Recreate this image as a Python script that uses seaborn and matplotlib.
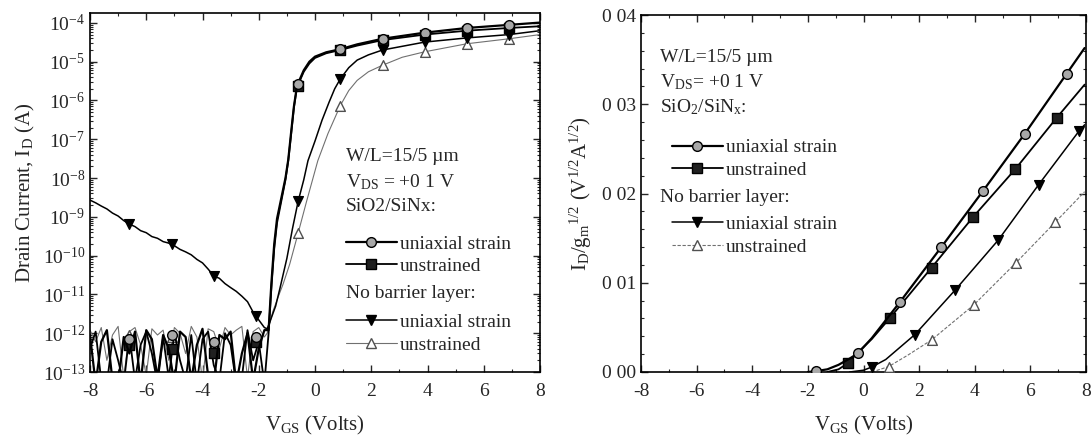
import numpy as np
import matplotlib
matplotlib.use("Agg")
import matplotlib.pyplot as plt
import seaborn as sns
from matplotlib.lines import Line2D
from matplotlib.ticker import MultipleLocator, LogLocator, FixedLocator, FixedFormatter, NullFormatter

# --- Style -------------------------------------------------------------------
sns.set_style("ticks")
plt.rcParams["font.family"] = ["Liberation Serif", "DejaVu Serif"]
plt.rcParams["mathtext.fontset"] = "custom"
plt.rcParams["mathtext.rm"] = "Liberation Serif"
plt.rcParams["mathtext.it"] = "Liberation Serif:italic"
plt.rcParams["mathtext.bf"] = "Liberation Serif:bold"
plt.rcParams["axes.unicode_minus"] = False

# --- Left panel data: I_D vs V_GS (log) --------------------------------------
# off-state sweep (noise floor), V
v_off = [-8.0, -7.8, -7.6, -7.4, -7.2, -7.0, -6.8, -6.6, -6.4, -6.2, -6.0,
         -5.8, -5.6, -5.4, -5.2, -5.0, -4.8, -4.6, -4.4, -4.2, -4.0, -3.8,
         -3.6, -3.4, -3.2, -3.0, -2.8, -2.6, -2.4, -2.2, -2.0, -1.8]

# noise floor, in units of 1e-13 A
noise_sio2_strain = [9, 0.5, 6, 12, 0.6, 0.5, 8, 3, 11, 0.5, 12, 7, 0.7, 9, 4, 0.5,
                     11, 8, 0.6, 5, 13, 0.8, 0.5, 9, 7, 11, 0.5, 3, 10, 0.6, 4, 12]
noise_sio2_unstr = [4, 11, 0.6, 0.5, 7, 2, 0.5, 9, 0.6, 5, 11, 3, 0.5, 8, 0.7, 10,
                    2, 0.6, 9, 0.5, 7, 11, 1.5, 0.6, 10, 5, 0.5, 0.7, 12, 2, 6, 0.5]
noise_nobar_unstr = [12, 6, 14, 2, 9, 15, 0.7, 11, 14, 5, 0.8, 13, 9, 12, 2, 14,
                     10, 3, 15, 8, 0.6, 13, 11, 4, 14, 9, 12, 15, 0.7, 11, 14, 8]
# gate leakage of the no-barrier strained device, A
leak_nobar_strain = [2.7e-9, 2.3e-9, 1.9e-9, 1.6e-9, 1.25e-9, 1.05e-9, 8.0e-10, 6.5e-10,
                     5.6e-10, 4.4e-10, 3.9e-10, 3.1e-10, 2.8e-10, 2.3e-10, 2.1e-10, 1.8e-10,
                     1.45e-10, 1.25e-10, 1.05e-10, 8.0e-11, 6.5e-11, 4.5e-11, 3.0e-11, 2.6e-11,
                     1.9e-11, 1.5e-11, 1.2e-11, 9.0e-12, 6.5e-12, 3.5e-12, 2.2e-12, 1.4e-12]

# turn-on part
v_on_sio2 = [-1.65, -1.55, -1.45, -1.35, -1.2, -1.05, -0.95, -0.85, -0.75, -0.64,
             -0.4, -0.2, 0.0, 0.4, 0.9, 1.5, 2.4, 3.9, 5.4, 6.9, 8.0]
i_on_sio2_strain = [1.2e-12, 2e-11, 2e-10, 9e-10, 3e-9, 1e-8, 3e-8, 1.5e-7, 7e-7, 2.4e-6,
                    6e-6, 1.0e-5, 1.35e-5, 1.75e-5, 2.1e-5, 2.8e-5, 3.9e-5, 5.6e-5,
                    7.4e-5, 8.9e-5, 1.02e-4]
i_on_sio2_unstr = [1e-12, 1.5e-11, 1.5e-10, 7e-10, 2.5e-9, 9e-9, 2.8e-8, 1.3e-7, 6.5e-7, 2.2e-6,
                   5.5e-6, 9e-6, 1.25e-5, 1.65e-5, 2.0e-5, 2.6e-5, 3.6e-5, 5.0e-5,
                   6.3e-5, 7.4e-5, 8.2e-5]
v_on_nobar_strain = [-1.7, -1.6, -1.4, -1.25, -1.0, -0.8, -0.6, -0.4, -0.25, 0.0, 0.25,
                     0.5, 0.7, 0.9, 1.2, 1.5, 1.9, 2.4, 3.9, 5.4, 6.9, 8.0]
i_on_nobar_strain = [1.3e-12, 2e-12, 5e-12, 1.4e-11, 8.5e-11, 5e-10, 2.5e-9, 9e-9, 2.8e-8,
                     9e-8, 3.1e-7, 9e-7, 2e-6, 3.6e-6, 7e-6, 1.1e-5, 1.5e-5, 2.0e-5,
                     3.2e-5, 4.1e-5, 5.0e-5, 6.3e-5]
v_on_nobar_unstr = [-1.7, -1.5, -1.3, -1.14, -0.9, -0.6, -0.3, 0.1, 0.46, 0.9, 1.2, 1.5,
                    1.9, 2.4, 3.1, 3.9, 5.4, 6.9, 8.0]
i_on_nobar_unstr = [1e-12, 3.6e-12, 9e-12, 1.8e-11, 6e-11, 3.8e-10, 2.5e-9, 2.8e-8, 1.4e-7,
                    7.4e-7, 1.8e-6, 3.3e-6, 5.5e-6, 8.1e-6, 1.3e-5, 1.8e-5, 2.9e-5,
                    3.9e-5, 5.0e-5]

# symbols (every 1.5 V)
mk_v_left = [-6.6, -5.1, -3.6, -2.1, -0.6, 0.9, 2.4, 3.9, 5.4, 6.9]
mk_sio2_strain = [7e-13, 9e-13, 6e-13, 8e-13, 2.6e-6, 2.1e-5, 3.9e-5, 5.6e-5, 7.4e-5, 8.9e-5]
mk_sio2_unstr = [5e-13, 4e-13, 3e-13, 6e-13, 2.3e-6, 2.0e-5, 3.6e-5, 5.0e-5, 6.3e-5, 7.4e-5]
mk_nobar_strain = [6.5e-10, 1.95e-10, 3.0e-11, 2.8e-12, 2.5e-9, 3.6e-6, 2.0e-5, 3.2e-5, 4.1e-5, 5.0e-5]
mk_nobar_unstr = [9e-13, 8e-13, 5e-13, 8e-13, 3.8e-10, 7.4e-7, 8.1e-6, 1.8e-5, 2.9e-5, 3.9e-5]

# --- Right panel data: I_D / g_m^1/2 ----------------------------------------
r_v_sio2_strain = [-2.0, -1.7, -1.3, -0.9, -0.5, -0.2, 0.3, 1.3, 2.8, 4.3, 5.8, 7.3, 7.95]
r_sio2_strain = [0.0, 0.0001, 0.0003, 0.0008, 0.0015, 0.0021, 0.0038, 0.0078, 0.0140,
                 0.0203, 0.0267, 0.0334, 0.0363]
r_v_sio2_unstr = [-1.3, -0.9, -0.55, -0.2, 0.3, 0.95, 2.45, 3.95, 5.45, 6.95, 7.95]
r_sio2_unstr = [0.0, 0.0003, 0.001, 0.0022, 0.0037, 0.00605, 0.0117, 0.0174, 0.0227,
                0.0285, 0.0322]
r_v_nobar_strain = [-0.5, 0.0, 0.3, 0.8, 1.85, 3.3, 4.85, 6.3, 7.75, 7.95]
r_nobar_strain = [0.0, 0.0002, 0.00056, 0.0014, 0.0042, 0.0092, 0.0148, 0.0210, 0.0270, 0.0277]
r_v_nobar_unstr = [0.3, 0.9, 1.6, 2.45, 3.96, 5.47, 6.9, 7.95]
r_nobar_unstr = [0.0, 0.0006, 0.0019, 0.0036, 0.0075, 0.0122, 0.0168, 0.0202]

r_mk_v_sio2_strain = [-1.7, -0.2, 1.3, 2.8, 4.3, 5.8, 7.3]
r_mk_sio2_strain = [0.0001, 0.0021, 0.0078, 0.0140, 0.0203, 0.0267, 0.0334]
r_mk_v_sio2_unstr = [-0.55, 0.95, 2.45, 3.95, 5.45, 6.95]
r_mk_sio2_unstr = [0.001, 0.00605, 0.0117, 0.0174, 0.0227, 0.0285]
r_mk_v_nobar_strain = [0.3, 1.85, 3.3, 4.85, 6.3, 7.75]
r_mk_nobar_strain = [0.00056, 0.0042, 0.0092, 0.0148, 0.0210, 0.0270]
r_mk_v_nobar_unstr = [0.9, 2.45, 3.96, 5.47, 6.9]
r_mk_nobar_unstr = [0.0006, 0.0036, 0.0075, 0.0122, 0.0168]

r_yticks = [0.0, 0.01, 0.02, 0.03, 0.04]
r_yticklabels = ["0 00", "0 01", "0 02", "0 03", "0 04"]

# --- Series styles -------------------------------------------------------------
STY = {
    "sio2_strain": dict(color="black", lw=1.6, marker="o", face="#a8a8a8", edge="black"),
    "sio2_unstr":  dict(color="black", lw=1.3, marker="s", face="#202020", edge="black"),
    "nobar_strain": dict(color="black", lw=1.1, marker="v", face="black", edge="black"),
    "nobar_unstr": dict(color="#707070", lw=0.8, marker="^", face="white", edge="#505050"),
}
MS = 7


def draw(ax, key, x, y, mx, my, ls="-", z=2):
    st = STY[key]
    sns.lineplot(x=x, y=y, ax=ax, color=st["color"], lw=st["lw"], ls=ls,
                 estimator=None, sort=False, zorder=z)
    sns.scatterplot(x=mx, y=my, ax=ax, marker=st["marker"], s=MS ** 2,
                    color=st["face"], edgecolor=st["edge"], linewidth=1.0, zorder=z + 1)


def handle(key, ls="-"):
    st = STY[key]
    return Line2D([], [], color=st["color"], lw=st["lw"], ls=ls, marker=st["marker"],
                  markersize=MS, markerfacecolor=st["face"], markeredgecolor=st["edge"])


fig = plt.figure(figsize=(10.92, 4.41), dpi=100)
ax1 = fig.add_axes([90 / 1092, 69 / 441, 450 / 1092, 359 / 441])
ax2 = fig.add_axes([641 / 1092, 69 / 441, 445 / 1092, 357 / 441])

# =============================================================================
# Left: transfer curves
# =============================================================================
x_nu = v_off + v_on_nobar_unstr
y_nu = [n * 1e-13 for n in noise_nobar_unstr] + i_on_nobar_unstr
draw(ax1, "nobar_unstr", x_nu, y_nu, mk_v_left, mk_nobar_unstr, z=2)

x_s = v_off + v_on_sio2
draw(ax1, "sio2_unstr", x_s, [n * 1e-13 for n in noise_sio2_unstr] + i_on_sio2_unstr,
     mk_v_left, mk_sio2_unstr, z=4)
draw(ax1, "sio2_strain", x_s, [n * 1e-13 for n in noise_sio2_strain] + i_on_sio2_strain,
     mk_v_left, mk_sio2_strain, z=6)
draw(ax1, "nobar_strain", v_off + v_on_nobar_strain, leak_nobar_strain + i_on_nobar_strain,
     mk_v_left, mk_nobar_strain, z=8)

ax1.set_yscale("log")
ax1.set_xlim(-8, 8)
ax1.set_ylim(1e-13, 1.8e-4)
ax1.xaxis.set_major_locator(MultipleLocator(2))
ax1.xaxis.set_minor_locator(MultipleLocator(1))
ax1.yaxis.set_major_locator(LogLocator(base=10, numticks=20))
ax1.yaxis.set_minor_locator(LogLocator(base=10, subs=np.arange(2, 10), numticks=20))
ax1.yaxis.set_minor_formatter(NullFormatter())
ax1.set_xlabel(r"V$_{\rm GS}$ (Volts)", fontsize=15, labelpad=10)
ax1.set_ylabel(r"Drain Current, I$_{\rm D}$ (A)", fontsize=15, labelpad=4)

kw = dict(transform=ax1.transAxes, fontsize=14, va="center", ha="left")
ax1.text(0.569, 0.599, "W/L=15/5 \u00b5m", **kw)
ax1.text(0.569, 0.529, r"V$_{\rm DS}$ = +0 1 V", **kw)
ax1.text(0.569, 0.460, "SiO2/SiNx:", **kw)
ax1.text(0.569, 0.220, "No barrier layer:", **kw)

leg_kw = dict(frameon=False, fontsize=14, handlelength=2.6, handletextpad=0.15,
              labelspacing=0.25, borderpad=0, borderaxespad=0, loc="center left")
lg1 = ax1.legend([handle("sio2_strain"), handle("sio2_unstr")],
                 ["uniaxial strain", "unstrained"], bbox_to_anchor=(0.569, 0.326), **leg_kw)
ax1.add_artist(lg1)
ax1.legend([handle("nobar_strain"), handle("nobar_unstr")],
           ["uniaxial strain", "unstrained"], bbox_to_anchor=(0.569, 0.107), **leg_kw)

# =============================================================================
# Right: I_D / g_m^1/2
# =============================================================================
draw(ax2, "nobar_unstr", r_v_nobar_unstr, r_nobar_unstr, r_mk_v_nobar_unstr, r_mk_nobar_unstr,
     ls=(0, (3, 1.5)), z=2)
draw(ax2, "nobar_strain", r_v_nobar_strain, r_nobar_strain, r_mk_v_nobar_strain,
     r_mk_nobar_strain, z=4)
draw(ax2, "sio2_unstr", r_v_sio2_unstr, r_sio2_unstr, r_mk_v_sio2_unstr, r_mk_sio2_unstr, z=6)
draw(ax2, "sio2_strain", r_v_sio2_strain, r_sio2_strain, r_mk_v_sio2_strain,
     r_mk_sio2_strain, z=8)

ax2.set_xlim(-8, 8)
ax2.set_ylim(0, 0.04)
ax2.xaxis.set_major_locator(MultipleLocator(2))
ax2.xaxis.set_minor_locator(MultipleLocator(1))
ax2.yaxis.set_major_locator(FixedLocator(r_yticks))
ax2.yaxis.set_major_formatter(FixedFormatter(r_yticklabels))
ax2.yaxis.set_minor_locator(MultipleLocator(0.002))
ax2.set_xlabel(r"V$_{\rm GS}$ (Volts)", fontsize=15, labelpad=10)
ax2.set_ylabel(r"I$_{\rm D}$/g$_{\rm m}$$^{1/2}$ (V$^{1/2}$A$^{1/2}$)", fontsize=15, labelpad=6)

kw2 = dict(transform=ax2.transAxes, fontsize=14, va="center", ha="left")
ax2.text(0.043, 0.882, "W/L=15/5 \u00b5m", **kw2)
ax2.text(0.043, 0.812, r"V$_{\rm DS}$= +0 1 V", **kw2)
ax2.text(0.043, 0.742, r"SiO$_{\rm 2}$/SiN$_{\rm x}$:", **kw2)
ax2.text(0.043, 0.490, "No barrier layer:", **kw2)

lg2 = ax2.legend([handle("sio2_strain"), handle("sio2_unstr")],
                 ["uniaxial strain", "unstrained"], bbox_to_anchor=(0.07, 0.597), **leg_kw)
ax2.add_artist(lg2)
ax2.legend([handle("nobar_strain"), handle("nobar_unstr", ls=(0, (3, 1.5)))],
           ["uniaxial strain", "unstrained"], bbox_to_anchor=(0.07, 0.382), **leg_kw)

for ax in (ax1, ax2):
    ax.tick_params(which="both", direction="in", top=True, right=True, labelsize=14)
    ax.tick_params(which="major", length=5, width=1.0)
    ax.tick_params(which="minor", length=2.5, width=0.8)
    ax.tick_params(axis="x", which="major", pad=8)
    for sp in ax.spines.values():
        sp.set_linewidth(1.2)
        sp.set_color("black")

fig.savefig("out.png", dpi=100)
